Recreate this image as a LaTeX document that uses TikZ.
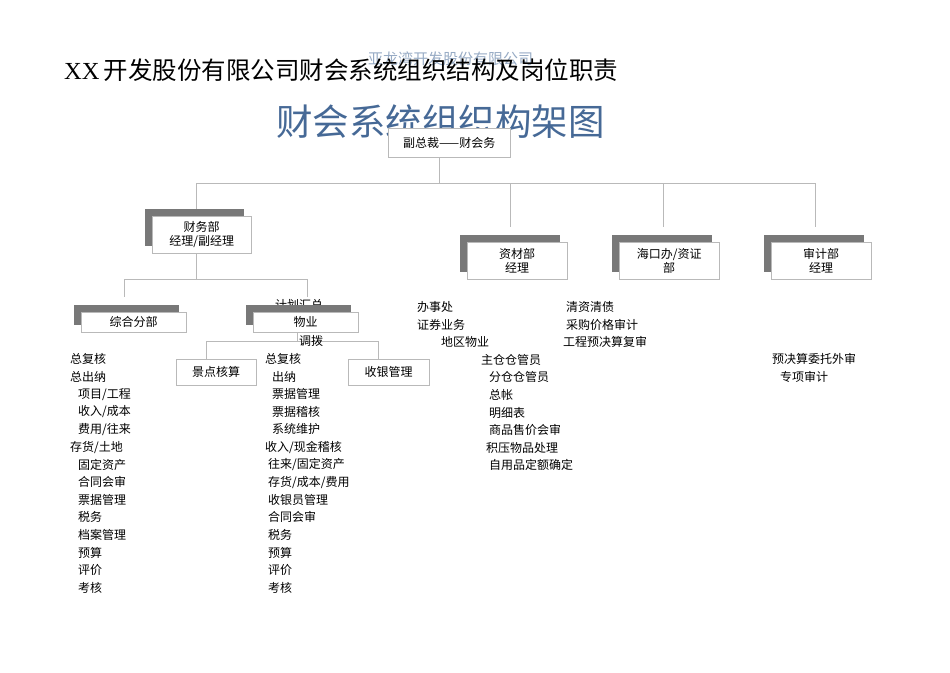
\documentclass[tikz,border=0pt]{standalone}
\usepackage{fontspec}
\setmainfont{Liberation Serif}
\newfontfamily\cjk{Noto Sans CJK SC}
\definecolor{ttl}{RGB}{70,105,150}
\definecolor{shd}{RGB}{120,120,120}
\definecolor{ln}{RGB}{185,185,185}
\begin{document}
\begin{tikzpicture}[x=1pt,y=-1pt,
  lbl/.style={anchor=west,inner sep=0,font=\cjk\fontsize{12}{12}\selectfont},
  wbox/.style={draw=ln,fill=white,inner sep=0,font=\cjk\fontsize{12}{14}\selectfont,align=center},
  conn/.style={draw=ln,line width=0.7pt}]
\useasboundingbox (0,0) rectangle (950,672);
% titles
\node[anchor=west,inner sep=0,text=ttl!70,font=\cjk\fontsize{15}{15}\selectfont,opacity=0.8] (wm) at (368,59) {亚龙湾开发股份有限公司};
\node[anchor=west,inner sep=0,font=\fontsize{24.5}{24.5}\selectfont] (t1) at (64,70) {XX\,{\cjk 开发股份有限公司财会系统组织结构及岗位职责}};
\node[anchor=west,inner sep=0,text=ttl,font=\cjk\fontsize{36.5}{36.5}\selectfont] (t2) at (276,122) {财会系统组织构架图};
% top
\node[wbox,minimum width=122,minimum height=29,anchor=north west] (top) at (388,128) {副总裁——财会务};
\coordinate (h0) at (439,183);
\draw[conn] (top.south -| h0) -- (h0);
\draw[conn] (196,183) -- (815,183);
% hidden text behind
\node[lbl] (jh) at (275,305) {计划汇总};
% shadow boxes
\newcommand{\shbox}[6]{% name, x1,y1,x2,y2, text
  \fill[shd] (#2-7,#3-7) rectangle (#4-7,#5-7);
  \node[wbox,minimum width=#4-#2,minimum height=#5-#3,anchor=north west] (#1) at (#2,#3) {#6};}
\shbox{cw}{152}{216}{251}{253}{财务部\\经理/副经理}
\shbox{zc}{467}{242}{567}{279}{资材部\\经理}
\shbox{hk}{619}{242}{719}{279}{海口办/资证\\部}
\shbox{sj}{771}{242}{871}{279}{审计部\\经理}
\draw[conn] (196,183) -- (196,209);
\draw[conn] (510,183) -- (510,227);
\draw[conn] (663,183) -- (663,227);
\draw[conn] (815,183) -- (815,227);
\draw[conn] (196,253) -- (196,279);
\draw[conn] (124,279) -- (307,279);
\draw[conn] (124,279) -- (124,297);
\draw[conn] (307,279) -- (307,297);
\shbox{zh}{81}{312}{186}{332}{综合分部}
\shbox{wy}{253}{312}{358}{332}{物业}
\draw[conn] (297,332) -- (297,341);
\draw[conn] (206,341) -- (378,341);
\node[lbl] (db) at (299,341) {调拨};
\draw[conn] (206,341) -- (206,359);
\draw[conn] (378,341) -- (378,359);
\node[wbox,minimum width=80,minimum height=26,anchor=north west] (jd) at (176,359) {景点核算};
\node[wbox,minimum width=81,minimum height=26,anchor=north west] (sy) at (348,359) {收银管理};
% lists
\def\dy{17.6}
\foreach \x/\t [count=\i from 0] in {70/总复核,70/总出纳,78/{项目/工程},78/{收入/成本},78/{费用/往来},70/{存货/土地},78/固定资产,78/合同会审,78/票据管理,78/税务,78/档案管理,78/预算,78/评价,78/考核}
  \node[lbl] (a\i) at (\x,359+\i*\dy) {\t};
\foreach \x/\t [count=\i from 0] in {265/总复核,272/出纳,272/票据管理,272/票据稽核,272/系统维护,265/{收入/现金稽核},268/{往来/固定资产},268/{存货/成本/费用},268/收银员管理,268/合同会审,268/税务,268/预算,268/评价,268/考核}
  \node[lbl] (b\i) at (\x,359+\i*\dy) {\t};
\foreach \x/\t [count=\i from 0] in {417/办事处,417/证券业务,441/地区物业,481/主仓仓管员,489/分仓仓管员,489/总帐,489/明细表,489/商品售价会审,486/积压物品处理,489/自用品定额确定}
  \node[lbl] (c\i) at (\x,307+\i*\dy) {\t};
\node[lbl] (d0) at (566,307) {清资清债};
\node[lbl] (d1) at (566,325) {采购价格审计};
\node[lbl] (d2) at (563,342) {工程预决算复审};
\node[lbl] (e0) at (772,359) {预决算委托外审};
\node[lbl] (e1) at (780,377) {专项审计};
\end{tikzpicture}
\end{document}
